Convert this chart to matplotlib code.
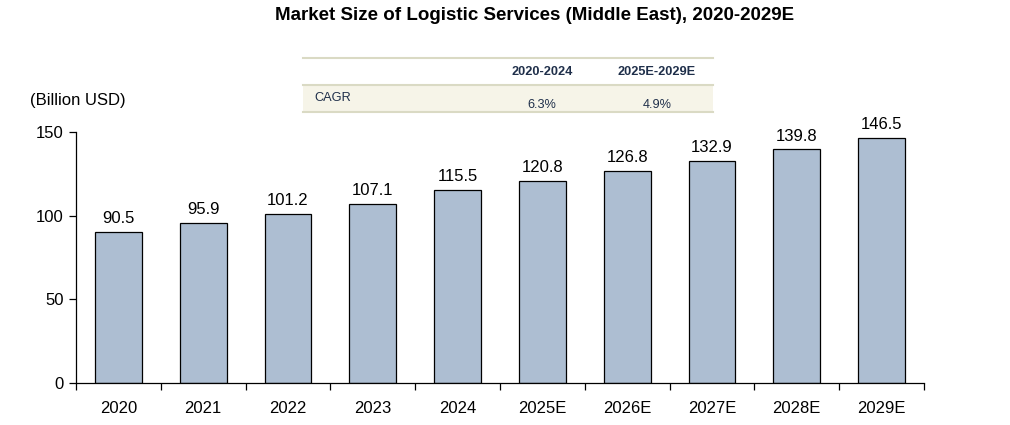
import matplotlib
matplotlib.use("Agg")
import matplotlib.pyplot as plt
from matplotlib.patches import Rectangle
from matplotlib.lines import Line2D

plt.rcParams['font.family'] = ['Liberation Sans', 'DejaVu Sans']

categories = ['2020', '2021', '2022', '2023', '2024', '2025E', '2026E', '2027E', '2028E', '2029E']
values = [90.5, 95.9, 101.2, 107.1, 115.5, 120.8, 126.8, 132.9, 139.8, 146.5]
cagr_periods = ['2020-2024', '2025E-2029E']
cagr_values = ['6.3%', '4.9%']
title = 'Market Size of Logistic Services (Middle East), 2020-2029E'
unit = '(Billion USD)'

W, H = 1010, 425
fig = plt.figure(figsize=(W / 100, H / 100), dpi=100)
ax = fig.add_axes([76 / W, 1 - 383 / H, (924 - 76) / W, (383 - 132) / H])

x = list(range(len(categories)))
bars = ax.bar(x, values, width=0.55, color='#ADBED2', edgecolor='black', linewidth=0.9, zorder=2)
for xi, v in zip(x, values):
    ax.annotate(f'{v:.1f}', (xi, v), xytext=(0, 4), textcoords='offset points',
                ha='center', va='bottom', fontsize=12, color='black')

ax.set_xlim(-0.5, len(categories) - 0.5)
ax.set_ylim(0, 150)
ax.set_yticks([0, 50, 100, 150])
ax.tick_params(axis='y', labelsize=12, length=5, width=0.9, pad=4)
ax.set_xticks(x)
ax.set_xticklabels(categories, fontsize=12)
ax.tick_params(axis='x', length=0, pad=13)
ax.set_xticks([i - 0.5 for i in range(len(categories) + 1)], minor=True)
ax.tick_params(axis='x', which='minor', length=5, width=0.9)
for s in ['top', 'right']:
    ax.spines[s].set_visible(False)
for s in ['left', 'bottom']:
    ax.spines[s].set_linewidth(0.9)

fig.text(535 / W, 1 - 16 / H, title, ha='center', va='center', fontsize=13.5, fontweight='bold')
fig.text(30 / W, 1 - 101 / H, unit, ha='left', va='center', fontsize=12)

# CAGR table
tx0, tx1 = 303 / W, 713 / W
fig.patches.append(Rectangle((tx0, 1 - 112 / H), tx1 - tx0, (112 - 85) / H,
                             transform=fig.transFigure, facecolor='#F6F4E8', edgecolor='none'))
for yy in [58, 85, 112]:
    fig.lines.append(Line2D([tx0, tx1], [1 - yy / H, 1 - yy / H], transform=fig.transFigure,
                            color='#DADAC4', linewidth=1.5))
col_x = [542, 657]
for cx, p, v in zip(col_x, cagr_periods, cagr_values):
    fig.text(cx / W, 1 - 72 / H, p, ha='center', va='center', fontsize=9.2,
             fontweight='bold', color='#1F2F4A')
    fig.text(cx / W, 1 - 105 / H, v, ha='center', va='center', fontsize=9.2, color='#1F2F4A')
fig.text(314 / W, 1 - 98 / H, 'CAGR', ha='left', va='center', fontsize=9.2, color='#1F2F4A')

fig.savefig('out.png', dpi=100)
